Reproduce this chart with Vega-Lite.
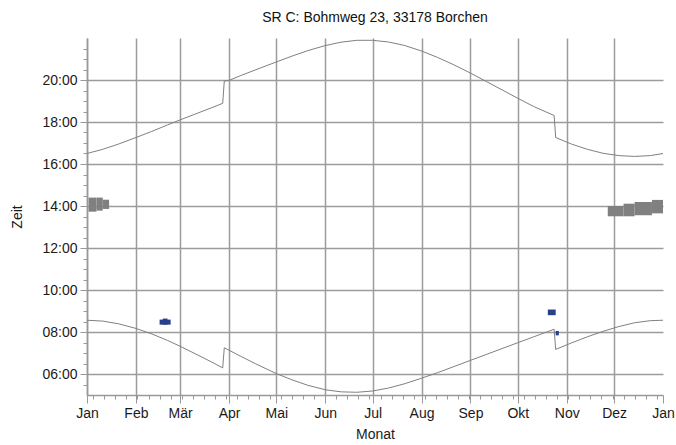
{
  "$schema": "https://vega.github.io/schema/vega-lite/v6.json",
  "width": 576,
  "height": 357,
  "autosize": {"type": "none"},
  "padding": {"left": 87, "top": 38, "right": 13, "bottom": 50},
  "title": {"text": "SR C: Bohmweg 23, 33178 Borchen", "font": "Liberation Sans", "fontSize": 14, "fontWeight": "normal", "color": "#111111", "anchor": "middle", "frame": "group", "baseline": "alphabetic", "offset": 14, "dy": 12},
  "config": {
    "view": {"stroke": null},
    "axis": {"labelFont": "Liberation Sans", "labelFontSize": 14, "labelColor": "#1a1a1a", "titleFont": "Liberation Sans", "titleFontSize": 14, "titleFontWeight": "normal", "titleColor": "#1a1a1a", "domainColor": "#999999", "domainWidth": 1.5, "tickColor": "#999999", "tickWidth": 1, "gridColor": "#9c9c9c", "gridWidth": 1.5}
  },
  "datasets": {
    "sun": [
      {"date": "2009-01-01", "t": 8.56, "s": "Sonnenaufgang"},
      {"date": "2009-01-11", "t": 8.52, "s": "Sonnenaufgang"},
      {"date": "2009-01-21", "t": 8.39, "s": "Sonnenaufgang"},
      {"date": "2009-02-01", "t": 8.17, "s": "Sonnenaufgang"},
      {"date": "2009-02-11", "t": 7.91, "s": "Sonnenaufgang"},
      {"date": "2009-02-21", "t": 7.60, "s": "Sonnenaufgang"},
      {"date": "2009-03-01", "t": 7.32, "s": "Sonnenaufgang"},
      {"date": "2009-03-11", "t": 6.95, "s": "Sonnenaufgang"},
      {"date": "2009-03-21", "t": 6.57, "s": "Sonnenaufgang"},
      {"date": "2009-03-28", "t": 6.29, "s": "Sonnenaufgang"},
      {"date": "2009-03-29", "t": 7.25, "s": "Sonnenaufgang"},
      {"date": "2009-04-08", "t": 6.86, "s": "Sonnenaufgang"},
      {"date": "2009-04-18", "t": 6.48, "s": "Sonnenaufgang"},
      {"date": "2009-05-01", "t": 6.02, "s": "Sonnenaufgang"},
      {"date": "2009-05-11", "t": 5.72, "s": "Sonnenaufgang"},
      {"date": "2009-05-21", "t": 5.46, "s": "Sonnenaufgang"},
      {"date": "2009-06-01", "t": 5.25, "s": "Sonnenaufgang"},
      {"date": "2009-06-11", "t": 5.15, "s": "Sonnenaufgang"},
      {"date": "2009-06-21", "t": 5.13, "s": "Sonnenaufgang"},
      {"date": "2009-07-01", "t": 5.19, "s": "Sonnenaufgang"},
      {"date": "2009-07-11", "t": 5.33, "s": "Sonnenaufgang"},
      {"date": "2009-07-21", "t": 5.53, "s": "Sonnenaufgang"},
      {"date": "2009-08-01", "t": 5.80, "s": "Sonnenaufgang"},
      {"date": "2009-08-11", "t": 6.06, "s": "Sonnenaufgang"},
      {"date": "2009-08-21", "t": 6.34, "s": "Sonnenaufgang"},
      {"date": "2009-09-01", "t": 6.65, "s": "Sonnenaufgang"},
      {"date": "2009-09-11", "t": 6.93, "s": "Sonnenaufgang"},
      {"date": "2009-09-21", "t": 7.21, "s": "Sonnenaufgang"},
      {"date": "2009-10-01", "t": 7.49, "s": "Sonnenaufgang"},
      {"date": "2009-10-11", "t": 7.77, "s": "Sonnenaufgang"},
      {"date": "2009-10-24", "t": 8.13, "s": "Sonnenaufgang"},
      {"date": "2009-10-25", "t": 7.17, "s": "Sonnenaufgang"},
      {"date": "2009-11-04", "t": 7.48, "s": "Sonnenaufgang"},
      {"date": "2009-11-14", "t": 7.77, "s": "Sonnenaufgang"},
      {"date": "2009-11-24", "t": 8.03, "s": "Sonnenaufgang"},
      {"date": "2009-12-04", "t": 8.26, "s": "Sonnenaufgang"},
      {"date": "2009-12-14", "t": 8.44, "s": "Sonnenaufgang"},
      {"date": "2009-12-24", "t": 8.54, "s": "Sonnenaufgang"},
      {"date": "2010-01-01", "t": 8.56, "s": "Sonnenaufgang"},
      {"date": "2009-01-01", "t": 16.50, "s": "Sonnenuntergang"},
      {"date": "2009-01-11", "t": 16.70, "s": "Sonnenuntergang"},
      {"date": "2009-01-21", "t": 16.95, "s": "Sonnenuntergang"},
      {"date": "2009-02-01", "t": 17.26, "s": "Sonnenuntergang"},
      {"date": "2009-02-11", "t": 17.55, "s": "Sonnenuntergang"},
      {"date": "2009-02-21", "t": 17.86, "s": "Sonnenuntergang"},
      {"date": "2009-03-01", "t": 18.10, "s": "Sonnenuntergang"},
      {"date": "2009-03-11", "t": 18.39, "s": "Sonnenuntergang"},
      {"date": "2009-03-21", "t": 18.68, "s": "Sonnenuntergang"},
      {"date": "2009-03-28", "t": 18.89, "s": "Sonnenuntergang"},
      {"date": "2009-03-29", "t": 19.95, "s": "Sonnenuntergang"},
      {"date": "2009-04-01", "t": 19.98, "s": "Sonnenuntergang"},
      {"date": "2009-04-08", "t": 20.20, "s": "Sonnenuntergang"},
      {"date": "2009-04-18", "t": 20.49, "s": "Sonnenuntergang"},
      {"date": "2009-05-01", "t": 20.86, "s": "Sonnenuntergang"},
      {"date": "2009-05-11", "t": 21.14, "s": "Sonnenuntergang"},
      {"date": "2009-05-21", "t": 21.40, "s": "Sonnenuntergang"},
      {"date": "2009-06-01", "t": 21.64, "s": "Sonnenuntergang"},
      {"date": "2009-06-11", "t": 21.80, "s": "Sonnenuntergang"},
      {"date": "2009-06-21", "t": 21.89, "s": "Sonnenuntergang"},
      {"date": "2009-07-01", "t": 21.89, "s": "Sonnenuntergang"},
      {"date": "2009-07-11", "t": 21.81, "s": "Sonnenuntergang"},
      {"date": "2009-07-21", "t": 21.65, "s": "Sonnenuntergang"},
      {"date": "2009-08-01", "t": 21.38, "s": "Sonnenuntergang"},
      {"date": "2009-08-11", "t": 21.08, "s": "Sonnenuntergang"},
      {"date": "2009-08-21", "t": 20.74, "s": "Sonnenuntergang"},
      {"date": "2009-09-01", "t": 20.33, "s": "Sonnenuntergang"},
      {"date": "2009-09-11", "t": 19.93, "s": "Sonnenuntergang"},
      {"date": "2009-09-21", "t": 19.53, "s": "Sonnenuntergang"},
      {"date": "2009-10-01", "t": 19.13, "s": "Sonnenuntergang"},
      {"date": "2009-10-11", "t": 18.74, "s": "Sonnenuntergang"},
      {"date": "2009-10-24", "t": 18.31, "s": "Sonnenuntergang"},
      {"date": "2009-10-25", "t": 17.26, "s": "Sonnenuntergang"},
      {"date": "2009-11-04", "t": 16.95, "s": "Sonnenuntergang"},
      {"date": "2009-11-14", "t": 16.70, "s": "Sonnenuntergang"},
      {"date": "2009-11-24", "t": 16.51, "s": "Sonnenuntergang"},
      {"date": "2009-12-04", "t": 16.40, "s": "Sonnenuntergang"},
      {"date": "2009-12-14", "t": 16.36, "s": "Sonnenuntergang"},
      {"date": "2009-12-24", "t": 16.40, "s": "Sonnenuntergang"},
      {"date": "2010-01-01", "t": 16.50, "s": "Sonnenuntergang"}
    ],
    "shadow": [
      {"date": "2009-01-02", "end": "2009-01-07", "t": 13.73, "t2": 14.40, "typ": "grau"},
      {"date": "2009-01-07", "end": "2009-01-11", "t": 13.78, "t2": 14.40, "typ": "grau"},
      {"date": "2009-01-11", "end": "2009-01-15", "t": 13.86, "t2": 14.30, "typ": "grau"},
      {"date": "2009-11-27", "end": "2009-12-07", "t": 13.51, "t2": 14.00, "typ": "grau"},
      {"date": "2009-12-07", "end": "2009-12-14", "t": 13.51, "t2": 14.11, "typ": "grau"},
      {"date": "2009-12-14", "end": "2009-12-25", "t": 13.56, "t2": 14.19, "typ": "grau"},
      {"date": "2009-12-25", "end": "2010-01-01", "t": 13.65, "t2": 14.29, "typ": "grau"},
      {"date": "2009-02-16", "end": "2009-02-23", "t": 8.35, "t2": 8.59, "typ": "blau"},
      {"date": "2009-02-18", "end": "2009-02-21", "t": 8.35, "t2": 8.64, "typ": "blau"},
      {"date": "2009-10-20", "end": "2009-10-25", "t": 8.80, "t2": 9.07, "typ": "blau"},
      {"date": "2009-10-25", "end": "2009-10-27", "t": 7.84, "t2": 8.05, "typ": "blau"}
    ]
  },
  "encoding": {
    "x": {
      "field": "date", "type": "temporal",
      "scale": {"type": "utc", "domain": [{"year": 2009, "month": 1, "date": 1, "utc": true}, {"year": 2010, "month": 1, "date": 1, "utc": true}]},
      "axis": {
        "title": "Monat", "titlePadding": 7,
        "values": [
          {"year": 2009, "month": 1, "date": 1, "utc": true}, {"year": 2009, "month": 2, "date": 1, "utc": true}, {"year": 2009, "month": 3, "date": 1, "utc": true}, {"year": 2009, "month": 4, "date": 1, "utc": true}, {"year": 2009, "month": 5, "date": 1, "utc": true}, {"year": 2009, "month": 6, "date": 1, "utc": true}, {"year": 2009, "month": 7, "date": 1, "utc": true}, {"year": 2009, "month": 8, "date": 1, "utc": true}, {"year": 2009, "month": 9, "date": 1, "utc": true}, {"year": 2009, "month": 10, "date": 1, "utc": true}, {"year": 2009, "month": 11, "date": 1, "utc": true}, {"year": 2009, "month": 12, "date": 1, "utc": true}, {"year": 2010, "month": 1, "date": 1, "utc": true},
          {"year": 2009, "month": 1, "date": 5, "utc": true}, {"year": 2009, "month": 1, "date": 12, "utc": true}, {"year": 2009, "month": 1, "date": 19, "utc": true}, {"year": 2009, "month": 1, "date": 26, "utc": true},
          {"year": 2009, "month": 2, "date": 2, "utc": true}, {"year": 2009, "month": 2, "date": 9, "utc": true}, {"year": 2009, "month": 2, "date": 16, "utc": true}, {"year": 2009, "month": 2, "date": 23, "utc": true},
          {"year": 2009, "month": 3, "date": 2, "utc": true}, {"year": 2009, "month": 3, "date": 9, "utc": true}, {"year": 2009, "month": 3, "date": 16, "utc": true}, {"year": 2009, "month": 3, "date": 23, "utc": true}, {"year": 2009, "month": 3, "date": 30, "utc": true},
          {"year": 2009, "month": 4, "date": 6, "utc": true}, {"year": 2009, "month": 4, "date": 13, "utc": true}, {"year": 2009, "month": 4, "date": 20, "utc": true}, {"year": 2009, "month": 4, "date": 27, "utc": true},
          {"year": 2009, "month": 5, "date": 4, "utc": true}, {"year": 2009, "month": 5, "date": 11, "utc": true}, {"year": 2009, "month": 5, "date": 18, "utc": true}, {"year": 2009, "month": 5, "date": 25, "utc": true},
          {"year": 2009, "month": 6, "date": 8, "utc": true}, {"year": 2009, "month": 6, "date": 15, "utc": true}, {"year": 2009, "month": 6, "date": 22, "utc": true}, {"year": 2009, "month": 6, "date": 29, "utc": true},
          {"year": 2009, "month": 7, "date": 6, "utc": true}, {"year": 2009, "month": 7, "date": 13, "utc": true}, {"year": 2009, "month": 7, "date": 20, "utc": true}, {"year": 2009, "month": 7, "date": 27, "utc": true},
          {"year": 2009, "month": 8, "date": 3, "utc": true}, {"year": 2009, "month": 8, "date": 10, "utc": true}, {"year": 2009, "month": 8, "date": 17, "utc": true}, {"year": 2009, "month": 8, "date": 24, "utc": true}, {"year": 2009, "month": 8, "date": 31, "utc": true},
          {"year": 2009, "month": 9, "date": 7, "utc": true}, {"year": 2009, "month": 9, "date": 14, "utc": true}, {"year": 2009, "month": 9, "date": 21, "utc": true}, {"year": 2009, "month": 9, "date": 28, "utc": true},
          {"year": 2009, "month": 10, "date": 5, "utc": true}, {"year": 2009, "month": 10, "date": 12, "utc": true}, {"year": 2009, "month": 10, "date": 19, "utc": true}, {"year": 2009, "month": 10, "date": 26, "utc": true},
          {"year": 2009, "month": 11, "date": 2, "utc": true}, {"year": 2009, "month": 11, "date": 9, "utc": true}, {"year": 2009, "month": 11, "date": 16, "utc": true}, {"year": 2009, "month": 11, "date": 23, "utc": true}, {"year": 2009, "month": 11, "date": 30, "utc": true},
          {"year": 2009, "month": 12, "date": 7, "utc": true}, {"year": 2009, "month": 12, "date": 14, "utc": true}, {"year": 2009, "month": 12, "date": 21, "utc": true}, {"year": 2009, "month": 12, "date": 28, "utc": true}
        ],
        "labelExpr": "utcdate(datum.value) == 1 ? ['Jan','Feb','Mär','Apr','Mai','Jun','Jul','Aug','Sep','Okt','Nov','Dez'][utcmonth(datum.value)] : ''",
        "labelOverlap": false, "labelFlush": false, "labelBound": false, "labelPadding": 3,
        "tickSize": {"condition": {"test": "utcdate(datum.value) == 1", "value": 8}, "value": 4},
        "gridOpacity": {"condition": {"test": "utcdate(datum.value) == 1 && utcyear(datum.value) == 2009", "value": 1}, "value": 0}
      }
    },
    "y": {
      "field": "t", "type": "quantitative",
      "scale": {"domain": [5, 22], "nice": false, "zero": false},
      "axis": {
        "title": "Zeit", "titlePadding": 17,
        "values": [5.5, 6, 6.5, 7, 7.5, 8, 8.5, 9, 9.5, 10, 10.5, 11, 11.5, 12, 12.5, 13, 13.5, 14, 14.5, 15, 15.5, 16, 16.5, 17, 17.5, 18, 18.5, 19, 19.5, 20, 20.5, 21, 21.5],
        "labelExpr": "datum.value % 2 == 0 ? (datum.value < 10 ? '0' : '') + datum.value + ':00' : ''",
        "labelOverlap": false, "labelPadding": 3,
        "tickSize": {"condition": {"test": "datum.value % 2 == 0", "value": 7}, "value": 4},
        "gridOpacity": {"condition": {"test": "datum.value % 2 == 0", "value": 1}, "value": 0}
      }
    }
  },
  "layer": [
    {
      "data": {"name": "shadow"},
      "mark": {"type": "rect"},
      "encoding": {
        "x2": {"field": "end"},
        "y2": {"field": "t2"},
        "color": {"field": "typ", "type": "nominal", "scale": {"domain": ["grau", "blau"], "range": ["#808080", "#28408c"]}, "legend": null}
      }
    },
    {
      "data": {"name": "sun"},
      "mark": {"type": "line", "color": "#808080", "strokeWidth": 1},
      "encoding": {
        "detail": {"field": "s", "type": "nominal"}
      }
    }
  ]
}
